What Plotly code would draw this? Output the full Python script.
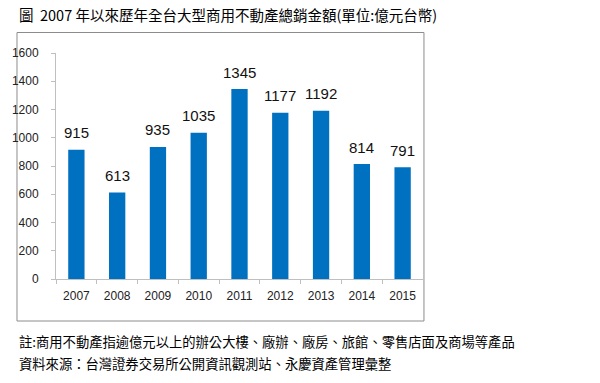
import plotly.graph_objects as go

years = ["2007", "2008", "2009", "2010", "2011", "2012", "2013", "2014", "2015"]
amounts = [915, 613, 935, 1035, 1345, 1177, 1192, 814, 791]
y_ticks = [0, 200, 400, 600, 800, 1000, 1200, 1400, 1600]

title_text = "圖  2007 年以來歷年全台大型商用不動產總銷金額(單位:億元台幣)"
note_text = "註:商用不動產指逾億元以上的辦公大樓、廠辦、廠房、旅館、零售店面及商場等產品"
source_text = "資料來源：台灣證券交易所公開資訊觀測站、永慶資產管理彙整"

W, H = 600, 383
L, R, T, B = 42, 423, 53, 279  # plot area in pixels

def px_x(x):
    return (x - L) / (R - L)

def px_y(y):
    return (B - y) / (B - T)

CJK = "Noto Sans CJK TC"
NUM = "Liberation Sans"

fig = go.Figure()
fig.add_trace(go.Bar(
    x=years, y=amounts,
    marker=dict(color="#0070C0", line=dict(width=0)),
    hoverinfo="x+y",
))

# category index positions (numeric-looking strings would be read as indices)
for i, v in enumerate(amounts):
    fig.add_annotation(x=i, y=v, text=str(v), showarrow=False,
                       yshift=17, font=dict(family=NUM, size=15, color="#111111"))

fig.add_shape(type="rect", xref="paper", yref="paper",
              x0=px_x(1.5), x1=px_x(424), y0=px_y(321), y1=px_y(32.5),
              line=dict(color="#8c8c8c", width=1), layer="below")

fig.add_annotation(xref="paper", yref="paper", x=px_x(2), y=px_y(15),
                   xanchor="left", yanchor="middle", showarrow=False,
                   text=title_text, font=dict(family=CJK, size=14.5, color="#000000"))
fig.add_annotation(xref="paper", yref="paper", x=px_x(2), y=px_y(341),
                   xanchor="left", yanchor="middle", showarrow=False,
                   text=note_text, font=dict(family=CJK, size=13.3, color="#000000"))
fig.add_annotation(xref="paper", yref="paper", x=px_x(2), y=px_y(363),
                   xanchor="left", yanchor="middle", showarrow=False,
                   text=source_text, font=dict(family=CJK, size=13.3, color="#000000"))

fig.update_layout(
    width=W, height=H,
    margin=dict(l=L, r=W - R, t=T, b=H - B, pad=0),
    paper_bgcolor="white", plot_bgcolor="white",
    bargap=0.6, showlegend=False,
    font=dict(family=NUM, size=12, color="#404040"),
)
fig.update_xaxes(
    type="category", range=[-0.5, len(years) - 0.5], showgrid=False,
    showline=True, linecolor="#bfbfbf", linewidth=1,
    ticks="outside", tickson="boundaries", ticklen=4, tickcolor="#bfbfbf",
    tickfont=dict(family=NUM, size=12, color="#222222"), ticklabelstandoff=6,
)
fig.update_yaxes(
    range=[0, 1600], tickvals=y_ticks, showgrid=False, zeroline=False,
    showline=True, linecolor="#bfbfbf", linewidth=1,
    ticks="outside", ticklen=4, tickcolor="#bfbfbf",
    tickfont=dict(family=NUM, size=12, color="#222222"), ticklabelstandoff=10,
)

fig.write_html("out.html", config={"displayModeBar": False},
               post_script="document.body.style.margin='0';document.body.style.overflow='hidden';")
